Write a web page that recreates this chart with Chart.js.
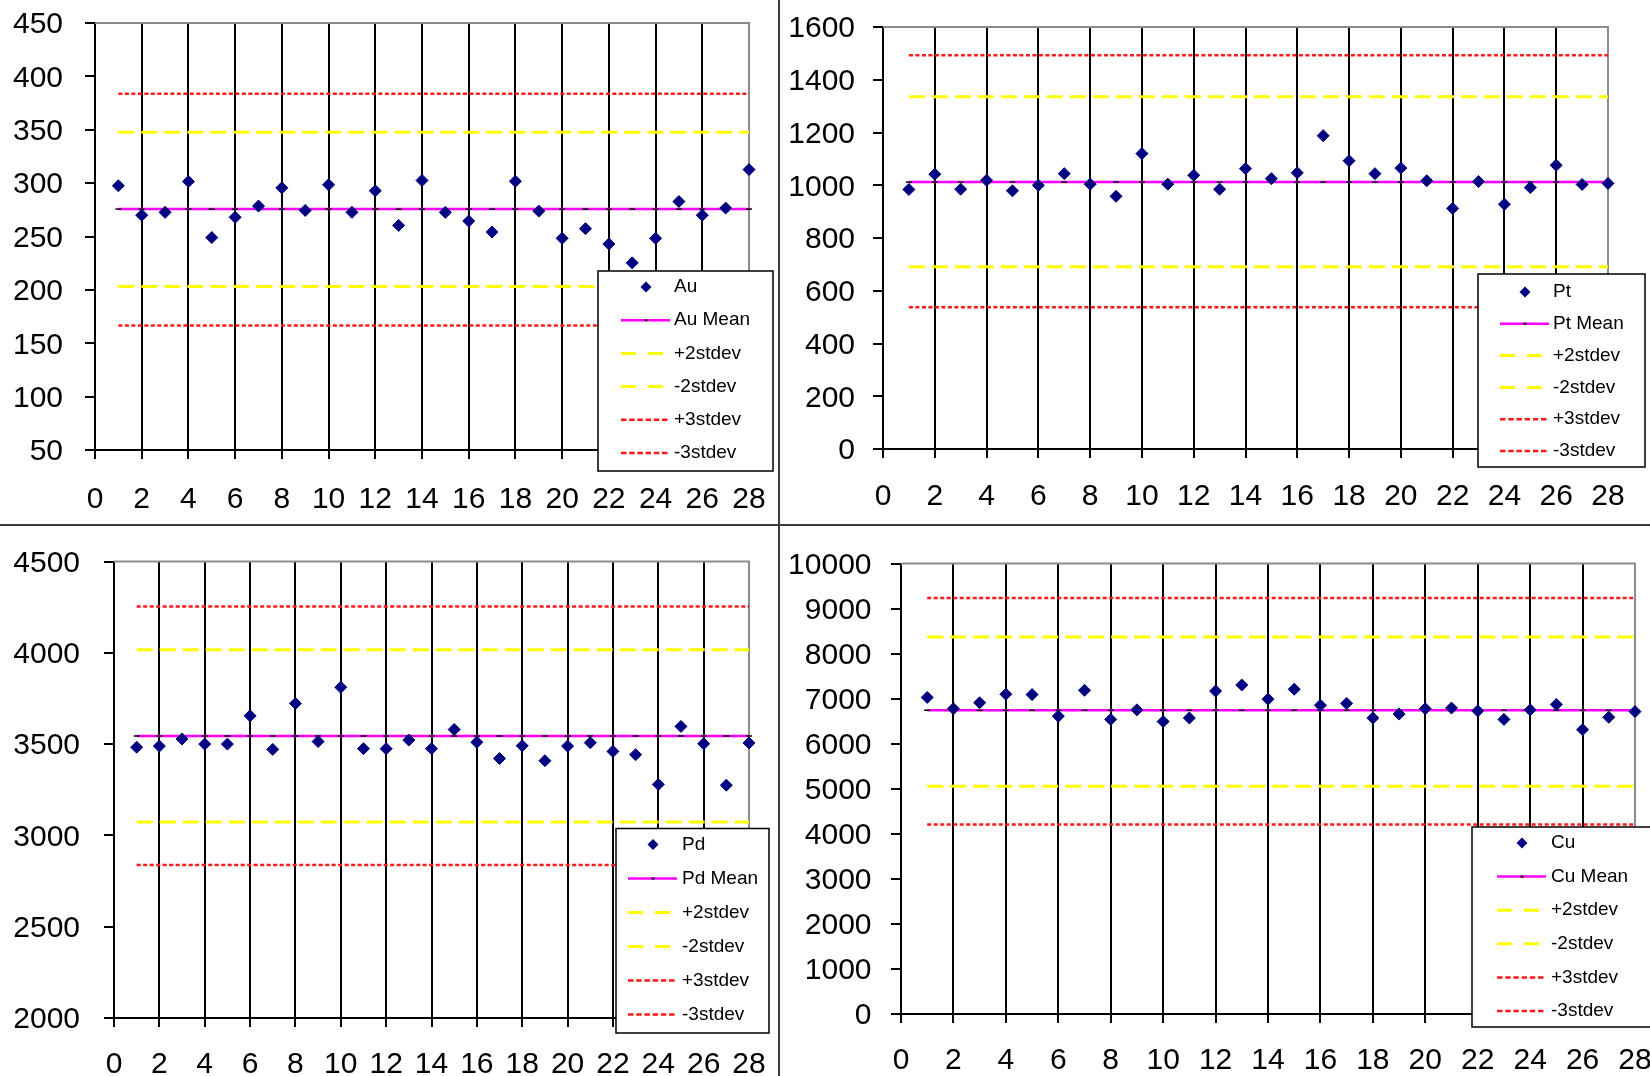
<!DOCTYPE html>
<html>
<head>
<meta charset="utf-8">
<title>QC charts</title>
<script src="https://cdn.jsdelivr.net/npm/chart.js@4.4.1/dist/chart.umd.min.js"></script>
<style>
    html, body { margin: 0; padding: 0; background: #fff; }
    body { width: 1650px; height: 1076px; position: relative; overflow: hidden; }
    canvas { position: absolute; }
    .divider { position: absolute; background: #3a3a3a; }
</style>
</head>
<body>
<canvas id="auChart" width="779" height="524" style="left:0;top:0"></canvas>
<canvas id="ptChart" width="869" height="524" style="left:781px;top:0"></canvas>
<canvas id="pdChart" width="779" height="550" style="left:0;top:526px"></canvas>
<canvas id="cuChart" width="869" height="550" style="left:781px;top:526px"></canvas>
<div class="divider" style="left:778px;top:0;width:2px;height:1076px"></div>
<div class="divider" style="left:0;top:524px;width:1650px;height:2px"></div>

<script>
// sample number on the x axis
const sampleNo = [1, 2, 3, 4, 5, 6, 7, 8, 9, 10, 11, 12, 13, 14, 15, 16, 17, 18, 19, 20, 21, 22, 23, 24, 25, 26, 27, 28];
const xTicks = [0, 28, 2]; // min, max, step

// measured values
const auValues = [297.5, 270, 272.6, 301.5, 249, 268, 278.5, 295.6, 274.4, 298.4, 272.6, 292.8, 260.4, 302.5,
    272.6, 264.5, 254.2, 301.8, 273.8, 248.3, 257.3, 243, 225.3, 248.3, 282.8, 270, 276.6, 312.7];
const ptValues = [984, 1042, 985, 1019, 979, 1000, 1044, 1004, 958, 1120, 1004, 1038, 985, 1063,
    1025, 1047, 1188, 1093, 1044, 1065, 1017, 912, 1014, 928, 991, 1076, 1003, 1007];
const pdValues = [3483, 3489, 3528, 3500, 3500, 3655, 3471, 3723, 3514, 3811, 3475, 3475, 3522, 3475,
    3580, 3510, 3421, 3491, 3409, 3489, 3508, 3460, 3442, 3279, 3597, 3502, 3275, 3506];
const cuValues = [7029, 6777, 6911, 7100, 7092, 6612, 7187, 6541, 6753, 6493, 6572, 7171, 7305, 6990,
    7210, 6856, 6896, 6572, 6659, 6777, 6793, 6730, 6541, 6753, 6872, 6312, 6588, 6714];

// control lines: mean, +2stdev, -2stdev, +3stdev, -3stdev
const limitNames = ['Mean', '+2stdev', '-2stdev', '+3stdev', '-3stdev'];
const auLimits = [275.7, 347.6, 203.2, 383.7, 166.7];
const ptLimits = [1012, 1336, 691, 1493, 537];
const pdLimits = [3545, 4017, 3073, 4253, 2838];
const cuLimits = [6746, 8369, 5059, 9236, 4208];

// y axis: min, max, step
const auTicks = [50, 450, 50];
const ptTicks = [0, 1600, 200];
const pdTicks = [2000, 4500, 500];
const cuTicks = [0, 10000, 1000];

Chart.defaults.font.family = "'Liberation Sans', Arial, sans-serif";
Chart.defaults.color = '#000';

// styles of the 5 control lines
const lineLooks = [
    { color: '#ff00ff', width: 2.5, dash: [], legendDash: [], marker: true },
    { color: '#ffff00', width: 3, dash: [16, 7], legendDash: [15, 12] },
    { color: '#ffff00', width: 3, dash: [16, 7], legendDash: [15, 12] },
    { color: '#ff1a1a', width: 2.5, dash: [4, 2.5], legendDash: [5.5, 2.7] },
    { color: '#ff1a1a', width: 2.5, dash: [4, 2.5], legendDash: [5.5, 2.7] }
];

// grey frame on top and right of the plot area
const plotFrame = {
    id: 'plotFrame',
    beforeDatasetsDraw(chart) {
        const { ctx, chartArea: a } = chart;
        ctx.save();
        ctx.strokeStyle = '#8c8c8c';
        ctx.lineWidth = 2;
        ctx.beginPath();
        ctx.moveTo(a.left, a.top);
        ctx.lineTo(a.right, a.top);
        ctx.lineTo(a.right, a.bottom);
        ctx.stroke();
        ctx.restore();
    }
};

// boxed legend sitting over the plot, like the excel one
const boxLegend = {
    id: 'boxLegend',
    afterDraw(chart, args, o) {
        const ctx = chart.ctx;
        ctx.save();
        ctx.fillStyle = '#fff';
        ctx.fillRect(o.left, o.top, o.width, o.height);
        ctx.strokeStyle = '#000';
        ctx.lineWidth = 1.5;
        ctx.strokeRect(o.left, o.top, o.width, o.height);

        chart.data.datasets.forEach((ds, i) => {
            const y = o.firstRow + i * o.rowGap;
            if (ds.showLine) {
                ctx.strokeStyle = ds.borderColor;
                ctx.lineWidth = ds.borderWidth;
                ctx.setLineDash(ds.legendDash || []);
                ctx.beginPath();
                ctx.moveTo(o.left + o.lineX1, y);
                ctx.lineTo(o.left + o.lineX2, y);
                ctx.stroke();
                ctx.setLineDash([]);
                if (ds.pointRadius > 0) {
                    ctx.fillStyle = '#000';
                    ctx.fillRect(o.left + o.markX - 1.5, y - 1, 3, 2);
                }
            } else {
                const cx = o.left + o.markX, r = 5.5;
                ctx.fillStyle = ds.backgroundColor;
                ctx.beginPath();
                ctx.moveTo(cx, y - r);
                ctx.lineTo(cx + r, y);
                ctx.lineTo(cx, y + r);
                ctx.lineTo(cx - r, y);
                ctx.closePath();
                ctx.fill();
            }
            ctx.fillStyle = '#000';
            ctx.font = "19px 'Liberation Sans', Arial, sans-serif";
            ctx.textBaseline = 'middle';
            ctx.textAlign = 'left';
            ctx.fillText(ds.label, o.left + o.textX, y);
        });
        ctx.restore();
    }
};

function buildChart(id, name, values, limits, yTicks, look) {
    const datasets = [{
        label: name,
        data: sampleNo.map((x, i) => ({ x: x, y: values[i] })),
        pointStyle: 'rectRot',
        pointRadius: 6,
        backgroundColor: '#000080',
        borderColor: '#000080',
        borderWidth: 1,
        clip: 12
    }];

    limits.forEach((v, k) => {
        const s = lineLooks[k];
        datasets.push({
            label: k === 0 ? name + ' ' + limitNames[k] : limitNames[k],
            data: sampleNo.map(x => ({ x: x, y: v })),
            showLine: true,
            borderColor: s.color,
            borderWidth: s.width,
            borderDash: s.dash,
            legendDash: s.legendDash,
            pointStyle: 'line',
            pointRadius: s.marker ? 3 : 0,
            pointBorderColor: '#000',
            pointBackgroundColor: '#000',
            pointBorderWidth: 1.5,
            clip: 12
        });
    });

    return new Chart(document.getElementById(id), {
        type: 'scatter',
        data: { datasets: datasets },
        options: {
            responsive: false,
            animation: false,
            events: [],
            layout: { padding: { left: 0, top: look.top, right: look.right, bottom: 0 } },
            plugins: {
                legend: { display: false },
                tooltip: { enabled: false },
                boxLegend: look.legend
            },
            scales: {
                x: {
                    type: 'linear',
                    min: xTicks[0],
                    max: xTicks[1],
                    ticks: { stepSize: xTicks[2], font: { size: 30 }, padding: look.xPad, maxRotation: 0, autoSkip: false },
                    grid: {
                        color: c => (c.tick && c.tick.value === xTicks[1]) ? 'rgba(0,0,0,0)' : '#000',
                        lineWidth: 2,
                        tickLength: 9,
                        tickColor: '#000'
                    },
                    border: { color: '#000', width: 2 },
                    afterFit: s => { s.height = look.xHeight; s.paddingLeft = 0; s.paddingRight = 0; }
                },
                y: {
                    min: yTicks[0],
                    max: yTicks[1],
                    ticks: { stepSize: yTicks[2], font: { size: 30 }, padding: look.yPad, labelOffset: 2, callback: v => String(v) },
                    grid: { drawOnChartArea: false, tickLength: 10, tickColor: '#000', lineWidth: 2 },
                    border: { color: '#000', width: 2 },
                    afterFit: s => { s.width = look.yWidth; s.paddingTop = 0; s.paddingBottom = 0; }
                }
            }
        },
        plugins: [plotFrame, boxLegend]
    });
}

document.addEventListener('DOMContentLoaded', () => {
    buildChart('auChart', 'Au', auValues, auLimits, auTicks, {
        top: 23, right: 30, yWidth: 95, xHeight: 74, xPad: 23, yPad: 22,
        legend: { left: 598, top: 271, width: 175, height: 200, firstRow: 287, rowGap: 33.2, lineX1: 23, lineX2: 72, markX: 48, textX: 76 }
    });
    buildChart('ptChart', 'Pt', ptValues, ptLimits, ptTicks, {
        top: 27, right: 42, yWidth: 102, xHeight: 75, xPad: 21, yPad: 18,
        legend: { left: 697, top: 274, width: 167, height: 193, firstRow: 292, rowGap: 31.8, lineX1: 22, lineX2: 71, markX: 47, textX: 75 }
    });
    buildChart('pdChart', 'Pd', pdValues, pdLimits, pdTicks, {
        top: 35.5, right: 30, yWidth: 114, xHeight: 58, xPad: 20, yPad: 24,
        legend: { left: 616, top: 302.5, width: 153, height: 204.5, firstRow: 318.5, rowGap: 34, lineX1: 12, lineX2: 61, markX: 37, textX: 66 }
    });
    buildChart('cuChart', 'Cu', cuValues, cuLimits, cuTicks, {
        top: 37.6, right: 15, yWidth: 120, xHeight: 62, xPad: 19.5, yPad: 19.5,
        legend: { left: 691, top: 301, width: 180, height: 200, firstRow: 317, rowGap: 33.6, lineX1: 25, lineX2: 74, markX: 50, textX: 79 }
    });
});
</script>
</body>
</html>
